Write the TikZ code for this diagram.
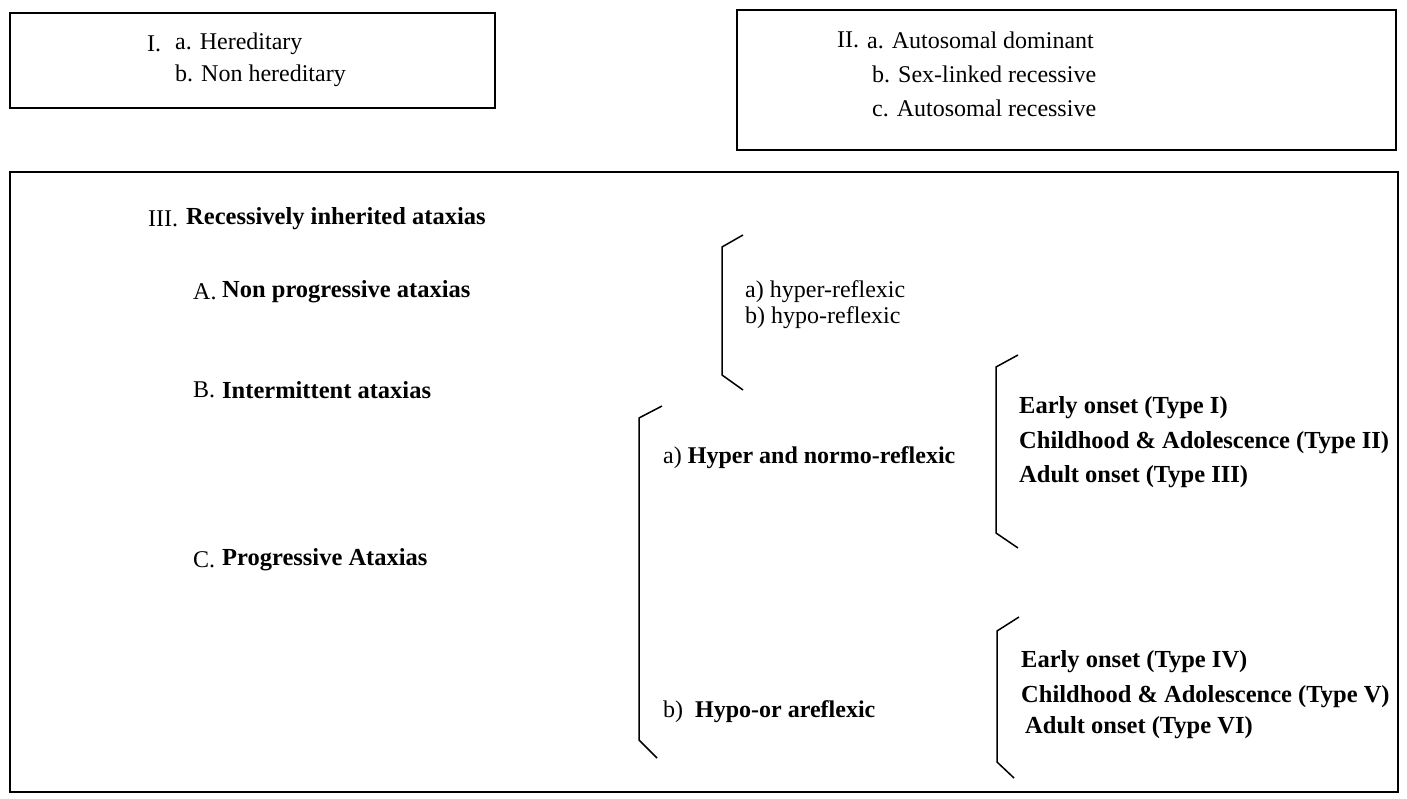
\documentclass[tikz,border=0pt]{standalone}
\usepackage{fontspec}
\setmainfont{Liberation Serif}
\begin{document}
\begin{tikzpicture}[x=1pt,y=-1pt,
  txt/.style={inner sep=0pt, anchor=west, font=\fontsize{24}{26}\selectfont},
  btxt/.style={txt, font=\fontsize{24.5}{26}\selectfont\bfseries},
  frame/.style={draw=black, line width=1.5pt},
  brk/.style={draw=black, line width=1.5pt, line join=miter}]
\useasboundingbox (0,0) rectangle (1407,799);
% boxes
\draw[frame] (10,13) rectangle (495,108);
\draw[frame] (737,10) rectangle (1396,150);
\draw[frame] (10,172) rectangle (1398,792);
% box I
\node[txt] (i1) at (147,44) {I.};
\node[txt] (i2) at (175,44) {a. Hereditary};
\node[txt] (i3) at (175,76) {b. Non hereditary};
% box II
\node[txt] (ii1) at (837,40) {II.};
\node[txt] (ii2) at (867,40) {a. Autosomal dominant};
\node[txt] (ii3) at (872,74) {b. Sex-linked recessive};
\node[txt] (ii4) at (872,108) {c. Autosomal recessive};
% box III
\node[txt] (iii) at (148,219) {III.};
\node[btxt] (iiit) at (186,219) {Recessively inherited ataxias};
\node[txt] (A) at (193,292) {A.};
\node[btxt] (At) at (222,292) {Non progressive ataxias};
\node[txt] (B) at (193,390) {B.};
\node[btxt] (Bt) at (222,390) {Intermittent ataxias};
\node[txt] (C) at (193,560) {C.};
\node[btxt] (Ct) at (222,560) {Progressive Ataxias};
% bracket 1
\draw[brk] (743,235) -- (722,247) -- (722,375) -- (743,390);
\node[txt] (h1) at (745,292) {a) hyper-reflexic};
\node[txt] (h2) at (745,318) {b) hypo-reflexic};
% bracket 2
\draw[brk] (662,406) -- (639,418) -- (639,740) -- (657,758);
\node[txt] (p1) at (663,458) {a) \textbf{Hyper and normo-reflexic}};
\node[txt] (p2) at (663,712) {b)\ \ \textbf{Hypo-or areflexic}};
% bracket 3
\draw[brk] (1018,355) -- (996,367) -- (996,533) -- (1018,548);
\node[btxt] (t1) at (1019,408) {Early onset (Type I)};
\node[btxt] (t2) at (1019,443) {Childhood \& Adolescence (Type II)};
\node[btxt] (t3) at (1019,477) {Adult onset (Type III)};
% bracket 4
\draw[brk] (1019,617) -- (997,631) -- (997,762) -- (1014,778);
\node[btxt] (t4) at (1021,662) {Early onset (Type IV)};
\node[btxt] (t5) at (1021,697) {Childhood \& Adolescence (Type V)};
\node[btxt] (t6) at (1025,728) {Adult onset (Type VI)};
\end{tikzpicture}
\end{document}
